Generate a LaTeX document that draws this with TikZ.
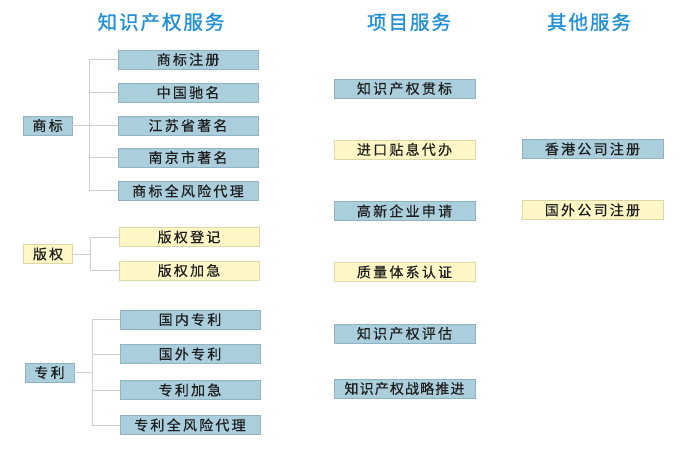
\documentclass[tikz,border=0pt]{standalone}
\usepackage{fontspec}
\newfontfamily\cjk[LetterSpace=16,FakeBold=0.4]{Noto Sans CJK SC}
\newfontfamily\cjktitle[LetterSpace=10,FakeBold=1.2]{Noto Sans CJK SC}
\definecolor{bfill}{HTML}{ABCEDC}
\definecolor{bline}{HTML}{92B3C2}
\definecolor{yfill}{HTML}{FFF8C6}
\definecolor{yline}{HTML}{DDD8A8}
\definecolor{ttl}{HTML}{2290D6}
\definecolor{cline}{HTML}{CFCFCF}
\definecolor{txt}{HTML}{1E1E1E}
\tikzset{
  boxb/.style={draw=bline, fill=bfill, line width=0.8pt, minimum height=19pt, inner sep=0pt, text=txt, font=\cjk\fontsize{14}{15}\selectfont},
  boxy/.style={boxb, draw=yline, fill=yfill},
  wide/.style={minimum width=140pt},
  short/.style={minimum width=49pt},
  conn/.style={draw=cline, line width=1pt},
  title/.style={text=ttl, font=\cjktitle\fontsize{19.5}{21}\selectfont, inner sep=0pt}
}
\begin{document}
\begin{tikzpicture}[x=1pt,y=-1pt]
\useasboundingbox (0,0) rectangle (685,449);
% titles
\node[title] (t1) at (161,22) {知识产权服务};
\node[title] (t2) at (409,22) {项目服务};
\node[title] (t3) at (589,22) {其他服务};
% trademark
\node[boxb,short] (tm) at (47.5,125.5) {商标};
\node[boxb,wide] (s1) at (188,59.5) {商标注册};
\node[boxb,wide] (s2) at (188,92.5) {中国驰名};
\node[boxb,wide] (s3) at (188,125.5) {江苏省著名};
\node[boxb,wide] (s4) at (188,157.5) {南京市著名};
\node[boxb,wide] (s5) at (188,191) {商标全风险代理};
\coordinate (tj) at (89,125.5);
\draw[conn] (tm.east) -- (tj);
\draw[conn] (s1.west) -- (s1.west -| tj) -- (s5.west -| tj) -- (s5.west);
\draw[conn] (s2.west) -- (s2.west -| tj);
\draw[conn] (s3.west) -- (s3.west -| tj);
\draw[conn] (s4.west) -- (s4.west -| tj);
% copyright
\node[boxy,short] (cr) at (48,254) {版权};
\node[boxy,wide] (c1) at (189,237) {版权登记};
\node[boxy,wide] (c2) at (189,270.5) {版权加急};
\coordinate (cj) at (90,254);
\draw[conn] (cr.east) -- (cj);
\draw[conn] (c1.west) -- (c1.west -| cj) -- (c2.west -| cj) -- (c2.west);
% patent
\node[boxb,short] (pt) at (49.5,372.5) {专利};
\node[boxb,wide] (p1) at (190,319.5) {国内专利};
\node[boxb,wide] (p2) at (190,354) {国外专利};
\node[boxb,wide] (p3) at (190,390) {专利加急};
\node[boxb,wide] (p4) at (190,425) {专利全风险代理};
\coordinate (pj) at (92,372.5);
\draw[conn] (pt.east) -- (pj);
\draw[conn] (p1.west) -- (p1.west -| pj) -- (p4.west -| pj) -- (p4.west);
\draw[conn] (p2.west) -- (p2.west -| pj);
\draw[conn] (p3.west) -- (p3.west -| pj);
% project services
\node[boxb,minimum width=141pt] (m1) at (404.5,88.5) {知识产权贯标};
\node[boxy,minimum width=141pt] (m2) at (404.5,149.5) {进口贴息代办};
\node[boxb,minimum width=141pt] (m3) at (404.5,211) {高新企业申请};
\node[boxy,minimum width=141pt] (m4) at (404.5,272) {质量体系认证};
\node[boxb,minimum width=141pt] (m5) at (404.5,333.5) {知识产权评估};
\node[boxb,minimum width=141pt] (m6) at (404.5,388.5) {\addfontfeature{LetterSpace=8}知识产权战略推进};
% other services
\node[boxb,minimum width=141pt] (o1) at (592.5,149) {香港公司注册};
\node[boxy,minimum width=141pt] (o2) at (592.5,210) {国外公司注册};
\end{tikzpicture}
\end{document}
